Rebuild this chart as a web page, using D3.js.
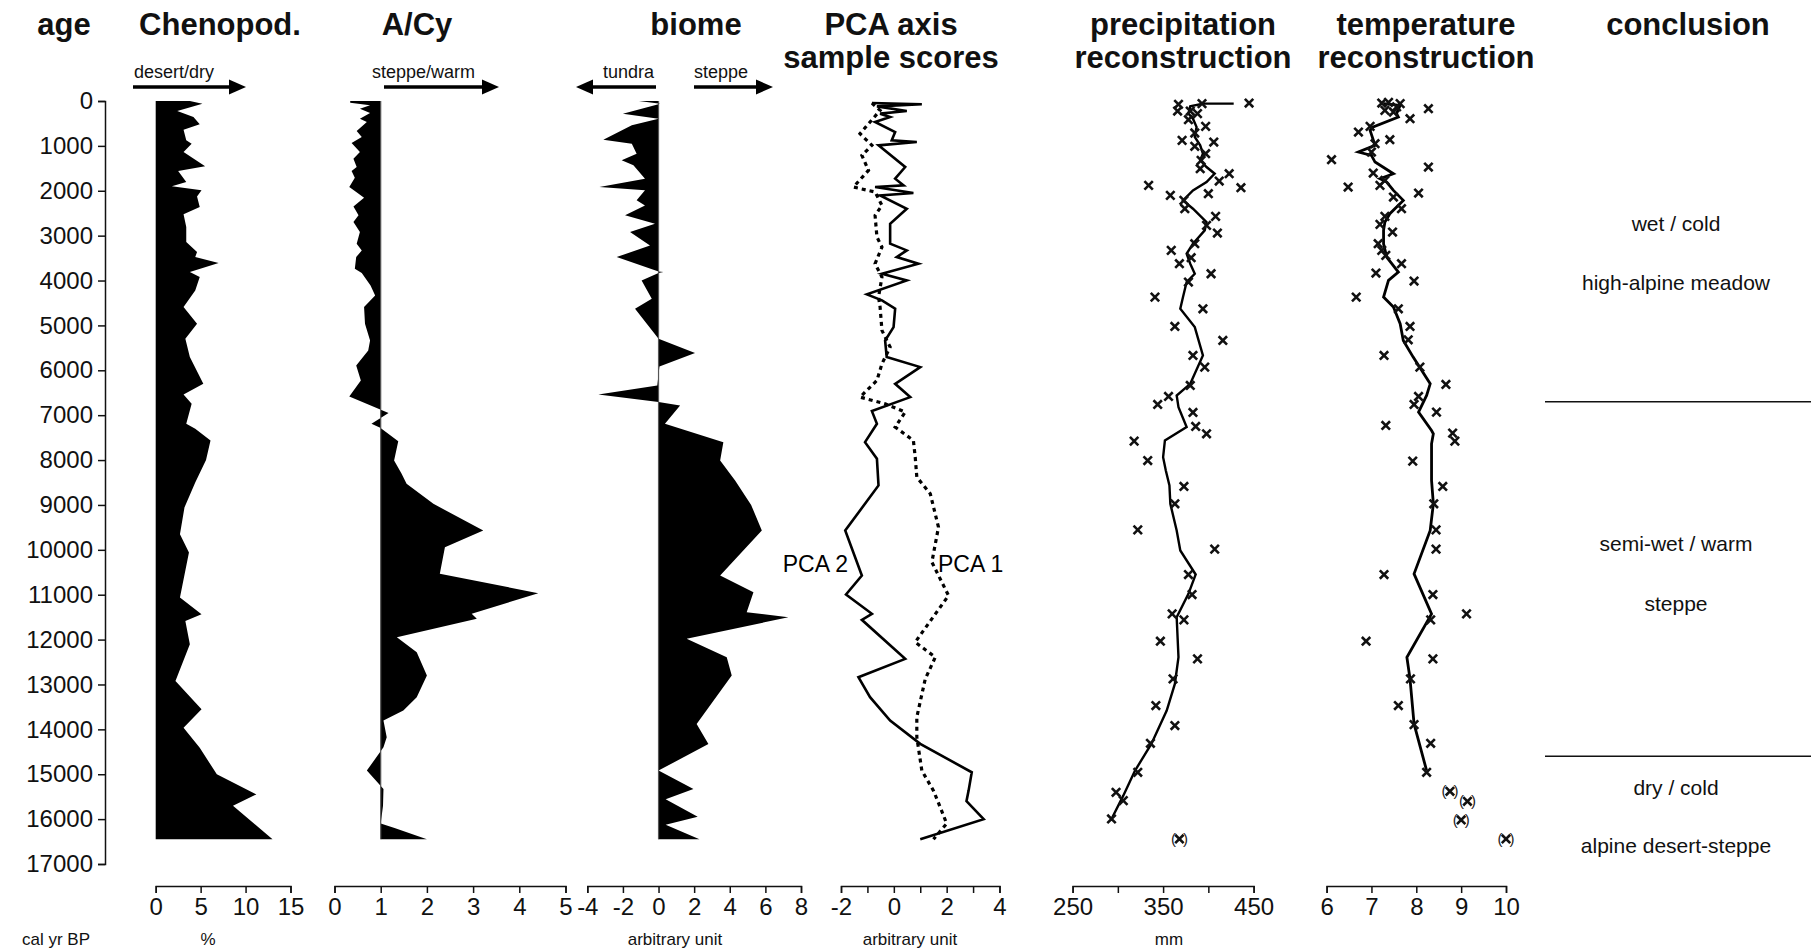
<!DOCTYPE html>
<html>
<head>
<meta charset="utf-8">
<script src="https://cdn.jsdelivr.net/npm/d3@7"></script>
<style>
  body { margin: 0; background: #fff; }
  svg { font-family: "Liberation Sans", Arial, sans-serif; }
  .axis path, .axis line { stroke: #111; stroke-width: 1.5; }
  .axis text { font-size: 24px; fill: #111; }
  .title { font-size: 31px; font-weight: bold; fill: #111; text-anchor: middle; }
  .sub { font-size: 18px; fill: #111; }
  .unit { font-size: 17px; fill: #111; text-anchor: middle; }
  .concl { font-size: 21px; fill: #111; text-anchor: middle; }
</style>
</head>
<body>
<script>
// ---- data: [age (cal yr BP), value] ----
var chenopod = [[0,3.8],[59,5.2],[223,2.4],[357,4.2],[520,4.9],[639,3.1],[877,3.4],[951,4.0],[1137,3.1],[1456,5.5],[1560,2.5],[1805,3.4],[1902,1.8],[1991,5.1],[2125,4.6],[2363,4.9],[2526,3.1],[2809,3.4],[3143,3.4],[3366,4.6],[3477,4.4],[3611,7.0],[3812,3.8],[3923,4.9],[4220,4.4],[4592,3.1],[4963,4.6],[5298,3.3],[5706,3.8],[6301,5.3],[6538,3.1],[6746,4.0],[7192,3.4],[7304,4.4],[7564,6.1],[8000,5.6],[8500,4.4],[9059,3.2],[9654,2.7],[10062,3.7],[11065,2.7],[11437,5.1],[11585,3.3],[12105,3.8],[12922,2.2],[13554,5.1],[13962,3.1],[14408,4.9],[15003,6.8],[15449,11.2],[15700,8.6],[16450,13.0]];

var acy = [[0,0.34],[37,0.34],[97,0.77],[171,0.55],[267,0.77],[394,0.55],[468,0.70],[669,0.48],[802,0.59],[936,0.37],[1137,0.55],[1285,0.41],[1471,0.48],[1560,0.37],[1709,0.44],[1917,0.32],[2028,0.47],[2155,0.64],[2348,0.41],[2548,0.52],[2697,0.41],[2920,0.55],[3180,0.48],[3329,0.59],[3477,0.47],[3737,0.44],[3834,0.59],[4109,0.78],[4332,0.88],[4592,0.64],[4963,0.66],[5335,0.77],[5558,0.73],[5892,0.47],[6226,0.57],[6583,0.32],[6954,1.17],[7192,0.80],[7281,0.99],[7579,1.38],[8010,1.29],[8300,1.45],[8529,1.56],[8975,2.14],[9570,3.22],[9940,2.39],[10534,2.28],[10966,4.41],[11426,2.97],[11538,3.08],[11946,1.35],[12281,1.78],[12801,2.0],[13284,1.78],[13582,1.49],[13805,1.06],[14176,1.13],[14399,1.06],[14919,0.70],[15328,1.06],[15700,1.05],[16100,1.0],[16200,1.3],[16450,2.0]];

var biome = [[0,-1.1],[59,0.1],[282,-2.0],[394,0],[542,-1.5],[862,-3.1],[951,-1.5],[1174,-1.23],[1322,-2.07],[1434,-1.41],[1731,-0.76],[1917,-3.32],[1991,-0.76],[2214,-1.23],[2326,-0.76],[2548,-1.88],[2734,-0.2],[2920,-1.6],[3217,-0.48],[3477,-2.35],[3800,0],[3812,0.27],[3830,0],[3997,-0.95],[4406,-0.38],[4629,-1.32],[5298,0],[5617,2.05],[5914,0.05],[6338,-0.07],[6538,-3.38],[6709,0],[6784,1.21],[7192,0.36],[7601,3.64],[8010,3.46],[8455,4.3],[9000,5.2],[9570,5.8],[10572,3.46],[10944,5.33],[11390,4.95],[11501,7.29],[11984,1.58],[12393,3.83],[12801,4.11],[13879,2.14],[14325,2.8],[14919,0],[15328,1.96],[15558,0.4],[15945,2.2],[16125,0.4],[16450,2.3]];

var pca1 = [[45,-0.83],[208,-0.52],[728,-1.28],[988,-0.83],[1211,-1.21],[1545,-0.96],[1917,-1.53],[2028,-0.71],[2326,-0.45],[2548,-0.71],[3031,-0.64],[3254,-0.45],[3626,-0.71],[3923,-0.45],[4369,-0.58],[4592,-0.52],[5112,-0.45],[5483,-0.14],[5855,-0.45],[6226,-0.64],[6598,-1.28],[6746,-0.33],[6932,0.43],[7266,0.05],[7564,0.74],[7935,0.81],[8381,0.87],[8752,1.38],[9495,1.69],[10275,1.44],[11018,2.07],[12058,0.81],[12393,1.57],[12876,1.19],[13728,0.87],[14176,0.87],[14919,1.06],[15365,1.5],[15800,1.8],[16100,2.0],[16450,1.5]];

var pca2 = [[45,-0.83],[74,1.06],[119,-0.64],[223,0.49],[282,-0.52],[357,-0.14],[468,-0.71],[691,0.05],[877,-0.08],[914,0.87],[988,-0.58],[1471,0.43],[1731,0.05],[1880,0.37],[1917,-0.71],[2051,0.74],[2103,-0.52],[2400,0.49],[2734,-0.14],[3180,-0.14],[3329,0.49],[3477,0.11],[3626,0.93],[3849,-0.45],[3997,0.49],[4309,-1.02],[4443,-0.45],[4629,0.05],[5037,-0.01],[5335,-0.33],[5706,-0.27],[5929,1.0],[6301,0.05],[6598,0.62],[6910,-0.83],[7192,-0.64],[7601,-1.09],[7972,-0.64],[8566,-0.58],[9570,-1.84],[10572,-1.21],[10996,-1.81],[11426,-0.83],[11560,-1.21],[12430,0.43],[12838,-1.34],[13284,-0.9],[13805,-0.14],[14324,1.0],[14956,2.95],[15365,2.83],[15600,2.75],[16000,3.4],[16450,1.0]];

var precipLine = [[59,428],[59,394],[119,380],[282,378],[394,383],[580,387],[802,385],[988,391],[1174,394],[1322,391],[1471,398],[1620,407],[1805,398],[1991,383],[2214,372],[2400,383],[2697,398],[2883,396],[3180,383],[3403,376],[3626,380],[3849,385],[4034,376],[4369,372],[4629,369],[5037,385],[5669,394],[6301,380],[6561,365],[6821,367],[7266,376],[7564,352],[7935,350],[8232,353],[8566,357],[8975,358],[9570,365],[10014,369],[10550,386],[10981,378],[11501,365],[12393,367],[12988,363],[13582,354],[14325,337],[14919,319],[15477,306],[15997,293]];

var precipPts = [[45,445],[59,393],[74,367],[223,366],[223,380],[282,388],[416,378],[565,397],[713,385],[877,371],[914,406],[1010,385],[1174,397],[1322,392],[1508,391],[1620,423],[1783,412],[1880,334],[1932,436],[2066,400],[2103,358],[2214,373],[2400,374],[2571,408],[2771,398],[2942,410],[3180,385],[3329,359],[3492,381],[3626,368],[3849,403],[4034,378],[4369,341],[4629,394],[5023,363],[5335,416],[5669,383],[5929,396],[6338,380],[6583,356],[6761,344],[6939,383],[7251,386],[7415,398],[7579,318],[8010,333],[8589,373],[8975,363],[9555,322],[9985,407],[10550,378],[10996,382],[11427,360],[11561,373],[12036,347],[12430,388],[12876,361],[13470,342],[13916,363],[14310,336],[14956,322],[15402,298],[15588,306],[15996,293]];
var precipOut = [[16442,368]];

var tempLine = [[59,7.27],[97,7.64],[282,7.56],[357,7.6],[580,7.04],[654,6.97],[988,7.08],[1137,6.71],[1211,7.0],[1360,7.08],[1620,7.49],[1731,7.19],[1805,7.34],[1991,7.49],[2214,7.71],[2511,7.41],[2697,7.3],[2883,7.27],[3180,7.27],[3477,7.34],[3812,7.6],[3997,7.38],[4369,7.27],[4592,7.49],[4963,7.64],[5335,7.71],[5706,7.93],[6301,8.31],[6561,8.23],[6932,8.05],[7341,8.34],[7415,8.38],[7638,8.34],[8455,8.34],[8975,8.38],[9570,8.31],[10535,7.95],[11427,8.34],[12393,7.79],[12876,7.86],[13879,7.95],[14919,8.23]];

var tempPts = [[30,7.38],[45,7.23],[59,7.64],[130,7.56],[171,8.27],[208,7.3],[245,7.49],[394,7.86],[565,6.97],[691,6.71],[862,7.41],[951,7.08],[1137,7.0],[1308,6.11],[1471,8.27],[1605,7.04],[1768,7.3],[1880,7.19],[1917,6.48],[2051,8.05],[2140,7.49],[2400,7.67],[2571,7.3],[2749,7.19],[2920,7.47],[3180,7.15],[3329,7.23],[3440,7.32],[3626,7.67],[3834,7.1],[4012,7.95],[4369,6.66],[4629,7.6],[5023,7.86],[5320,7.82],[5669,7.28],[5929,8.08],[6315,8.66],[6583,8.05],[6761,7.95],[6932,8.45],[7229,7.32],[7400,8.81],[7579,8.86],[8024,7.92],[8589,8.59],[8975,8.39],[9555,8.44],[9985,8.44],[10550,7.28],[10996,8.37],[11427,9.12],[11561,8.32],[12036,6.88],[12430,8.37],[12876,7.87],[13470,7.6],[13894,7.95],[14310,8.32],[14956,8.23]];
var tempOut = [[15380,8.75],[15603,9.14],[16019,9.0],[16442,10.0]];

// conclusion zones
var zoneBreaks = [6700, 14600];
var zoneText = [["wet / cold",2735],["high-alpine meadow",4050],["semi-wet / warm",9880],["steppe",11200],["dry / cold",15300],["alpine desert-steppe",16590]];

var ageTicks = d3.range(0, 17001, 1000);

// ---- layout ----
var W = 1815, H = 950,
    axisY = 886,
    svg = d3.select("body").append("svg").attr("width", W).attr("height", H),
    y = d3.scaleLinear().domain([0, 17000]).range([101, 864]);

var xChe = d3.scaleLinear().domain([0, 15]).range([155.7, 290.5]),
    xAcy = d3.scaleLinear().domain([0, 5]).range([334.5, 565.5]),
    xBio = d3.scaleLinear().domain([-4, 8]).range([587.3, 801]),
    xPca = d3.scaleLinear().domain([-2, 4]).range([841, 999.5]),
    xPre = d3.scaleLinear().domain([250, 450]).range([1072.6, 1253.6]),
    xTem = d3.scaleLinear().domain([6, 10]).range([1326.6, 1506]);

// titles
var titles = [
    {t: ["age"], x: 64},
    {t: ["Chenopod."], x: 220},
    {t: ["A/Cy"], x: 417},
    {t: ["biome"], x: 696},
    {t: ["PCA axis", "sample scores"], x: 891},
    {t: ["precipitation", "reconstruction"], x: 1183},
    {t: ["temperature", "reconstruction"], x: 1426},
    {t: ["conclusion"], x: 1688}
];
titles.forEach(function (d) {
    d.t.forEach(function (s, i) {
        svg.append("text").attr("class", "title")
            .attr("x", d.x).attr("y", 35 + i * 33).text(s);
    });
});

// direction arrows
function arrow(x1, x2, yy) {
    var dir = x2 > x1 ? 1 : -1;
    svg.append("line").attr("x1", x1).attr("x2", x2 - dir * 12)
        .attr("y1", yy).attr("y2", yy)
        .attr("stroke", "#000").attr("stroke-width", 3.5);
    svg.append("path")
        .attr("d", "M" + x2 + "," + yy + "L" + (x2 - dir * 17) + "," + (yy - 7.5) + "L" + (x2 - dir * 17) + "," + (yy + 7.5) + "Z")
        .attr("fill", "#000");
}
arrow(133, 246, 87);
svg.append("text").attr("class", "sub").attr("x", 134).attr("y", 78).text("desert/dry");
arrow(384, 499, 87);
svg.append("text").attr("class", "sub").attr("x", 372).attr("y", 78).text("steppe/warm");
arrow(656, 576, 87);
svg.append("text").attr("class", "sub").attr("x", 603).attr("y", 78).text("tundra");
arrow(694, 773, 87);
svg.append("text").attr("class", "sub").attr("x", 694).attr("y", 78).text("steppe");

// age axis
svg.append("g").attr("class", "axis")
    .attr("transform", "translate(105,0)")
    .call(d3.axisLeft(y).tickValues(ageTicks).tickFormat(d3.format("d")).tickSize(7).tickPadding(5));

// bottom axes
function bottomAxis(x, ticks, labels) {
    var g = svg.append("g").attr("class", "axis")
        .attr("transform", "translate(0," + axisY + ")")
        .call(d3.axisBottom(x).tickValues(ticks).tickSize(7).tickPadding(5)
            .tickFormat(function (v) { return labels.indexOf(v) >= 0 ? v : ""; }));
    return g;
}
bottomAxis(xChe, [0, 5, 10, 15], [0, 5, 10, 15]);
bottomAxis(xAcy, [0, 1, 2, 3, 4, 5], [0, 1, 2, 3, 4, 5]);
bottomAxis(xBio, [-4, -2, 0, 2, 4, 6, 8], [-4, -2, 0, 2, 4, 6, 8]);
bottomAxis(xPca, [-2, -1, 0, 1, 2, 3, 4], [-2, 0, 2, 4]);
bottomAxis(xPre, [250, 300, 350, 400, 450], [250, 350, 450]);
bottomAxis(xTem, [6, 7, 8, 9, 10], [6, 7, 8, 9, 10]);

var units = [["cal yr BP", 56], ["%", 208], ["arbitrary unit", 675], ["arbitrary unit", 910], ["mm", 1169]];
svg.selectAll(".unit").data(units).enter().append("text")
    .attr("class", "unit").attr("x", function (d) { return d[1]; }).attr("y", 945)
    .text(function (d) { return d[0]; });

// filled curves
function fillPanel(data, x, base) {
    svg.append("path").datum(data)
        .attr("fill", "#000")
        .attr("d", d3.area()
            .y(function (d) { return y(d[0]); })
            .x0(x(base))
            .x1(function (d) { return x(d[1]); }));
}
fillPanel(chenopod, xChe, 0);
fillPanel(acy, xAcy, 1);
fillPanel(biome, xBio, 0);

// baselines
[[xAcy, 1, acy], [xBio, 0, biome]].forEach(function (b) {
    svg.append("line")
        .attr("x1", b[0](b[1])).attr("x2", b[0](b[1]))
        .attr("y1", y(0)).attr("y2", y(b[2][b[2].length - 1][0]))
        .attr("stroke", "#555").attr("stroke-width", 1.2);
});

// lines
function vline(data, x, dash, w) {
    svg.append("path").datum(data)
        .attr("fill", "none").attr("stroke", "#000")
        .attr("stroke-width", w)
        .attr("stroke-dasharray", dash)
        .attr("stroke-linejoin", "miter")
        .attr("d", d3.line()
            .x(function (d) { return x(d[1]); })
            .y(function (d) { return y(d[0]); }));
}
vline(pca2, xPca, null, 2.6);
vline(pca1, xPca, "4,4", 3.2);
vline(precipLine, xPre, null, 2.4);
vline(tempLine, xTem, null, 2.8);

svg.append("text").attr("x", 848).attr("y", 572).attr("text-anchor", "end")
    .style("font-size", "23px").text("PCA 2");
svg.append("text").attr("x", 938).attr("y", 572)
    .style("font-size", "23px").text("PCA 1");

// x markers
var cross = d3.symbol().type(d3.symbolX).size(48);
function marks(data, x, bracket) {
    var g = svg.append("g");
    g.selectAll("path").data(data).enter().append("path")
        .attr("d", cross)
        .attr("transform", function (d) { return "translate(" + x(d[1]) + "," + y(d[0]) + ")"; })
        .attr("fill", "none").attr("stroke", "#111").attr("stroke-width", 2.6);
    if (bracket) {
        ["(", ")"].forEach(function (b, i) {
            g.selectAll(".br" + i).data(data).enter().append("text")
                .attr("x", function (d) { return x(d[1]) + (i ? 6 : -6); })
                .attr("y", function (d) { return y(d[0]) + 5; })
                .attr("text-anchor", "middle")
                .style("font-size", "15px").attr("fill", "#222")
                .text(b);
        });
    }
}
marks(precipPts, xPre, false);
marks(precipOut, xPre, true);
marks(tempPts, xTem, false);
marks(tempOut, xTem, true);

// conclusion column
svg.selectAll(".zone").data(zoneBreaks).enter().append("line")
    .attr("x1", 1545).attr("x2", 1811)
    .attr("y1", function (d) { return y(d); }).attr("y2", function (d) { return y(d); })
    .attr("stroke", "#111").attr("stroke-width", 1.5);
svg.selectAll(".concl").data(zoneText).enter().append("text")
    .attr("class", "concl").attr("x", 1676)
    .attr("y", function (d) { return y(d[1]) + 7; })
    .text(function (d) { return d[0]; });
</script>
</body>
</html>
